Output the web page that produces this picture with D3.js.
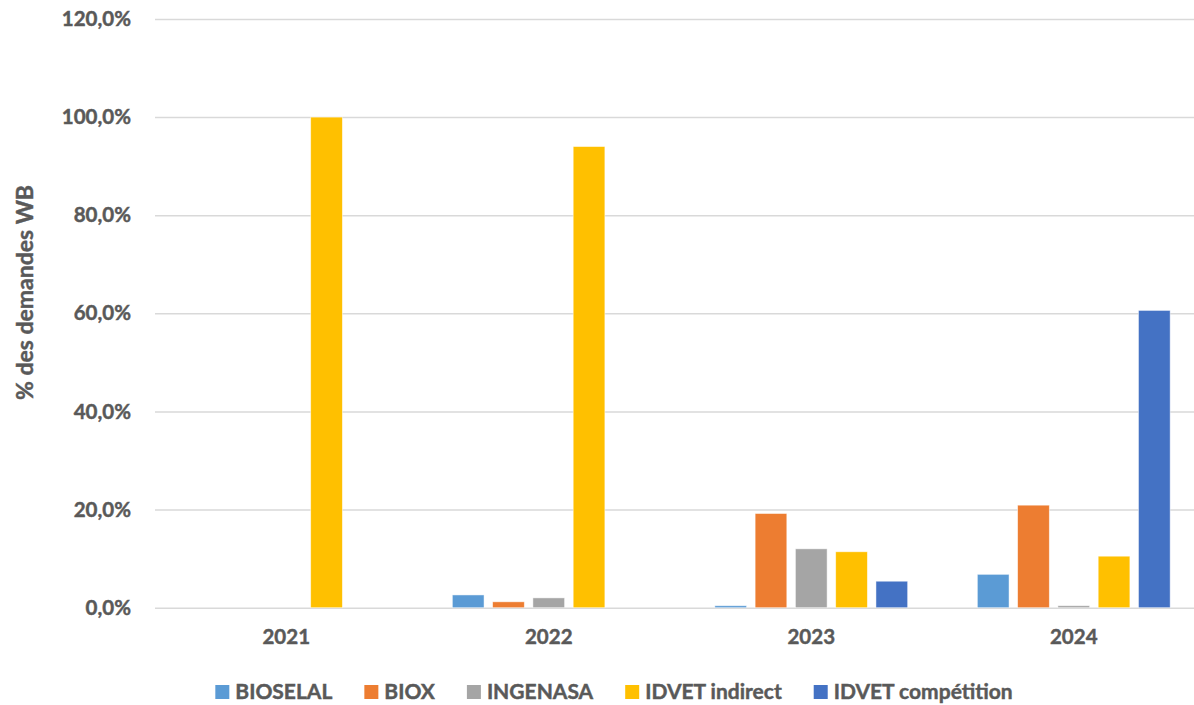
<!DOCTYPE html>
<html>
<head>
<meta charset="utf-8">
<script src="https://cdn.jsdelivr.net/npm/d3@7"></script>
<style>
  body { margin: 0; background: #fff; }
  text { font-family: Lato, "Open Sans", sans-serif; font-weight: bold; fill: #595959; stroke: #595959; stroke-width: 0.45px; }
</style>
</head>
<body>
<svg id="chart" width="1194" height="705"></svg>
<script>
/* data (percent) */
const years = ["2021", "2022", "2023", "2024"];
const seriesNames = ["BIOSELAL", "BIOX", "INGENASA", "IDVET indirect", "IDVET compétition"];
const bioselal = [0, 2.6, 0.4, 6.8];
const biox = [0, 1.2, 19.2, 20.9];
const ingenasa = [0, 2.0, 12.0, 0.4];
const idvetIndirect = [100, 94.0, 11.4, 10.5];
const idvetCompetition = [0, 0, 5.4, 60.6];
const yTicks = [0, 20, 40, 60, 80, 100, 120];

const seriesValues = [bioselal, biox, ingenasa, idvetIndirect, idvetCompetition];
const colors = ["#5B9BD5", "#ED7D31", "#A5A5A5", "#FFC000", "#4472C4"];

const svg = d3.select("#chart");

// plot area (right edge runs past the picture, like the original crop)
const plotLeft = 155, plotRight = 1205, plotTop = 19, plotBottom = 607.7;

const x0 = d3.scaleBand()
  .domain(years)
  .range([plotLeft, plotRight]);

const x1 = d3.scaleBand()
  .domain(seriesNames)
  .range([0, x0.bandwidth()])
  .paddingInner(0.213)
  .paddingOuter(0.865);

const y = d3.scaleLinear()
  .domain([0, 120])
  .range([plotBottom, plotTop]);

const locale = d3.formatLocale({ decimal: ",", thousands: " ", grouping: [3], currency: ["", "€"] });
const fmt = locale.format(".1f");

// gridlines + y labels
const yAxis = svg.append("g")
  .attr("transform", "translate(" + plotLeft + ",0)")
  .call(d3.axisLeft(y)
    .tickValues(yTicks)
    .tickSize(-(plotRight - plotLeft))
    .tickPadding(24)
    .tickFormat(d => fmt(d) + "%"));

yAxis.select(".domain").remove();
yAxis.selectAll(".tick line")
  .attr("stroke", "#d9d9d9")
  .attr("stroke-width", 1.5);
yAxis.selectAll(".tick text")
  .attr("font-size", "20.5px")
  .attr("fill", "#595959");

// bars
const groups = svg.append("g")
  .selectAll("g")
  .data(years)
  .enter().append("g")
  .attr("transform", d => "translate(" + x0(d) + ",0)");

groups.selectAll("rect")
  .data((d, i) => seriesNames.map((s, j) => ({ name: s, value: seriesValues[j][i], color: colors[j] })))
  .enter().append("rect")
  .attr("x", d => x1(d.name))
  .attr("width", x1.bandwidth())
  .attr("y", d => y(d.value))
  .attr("height", d => y(0) - y(d.value))
  .attr("fill", d => d.color)
  .attr("stroke", "#fff")
  .attr("stroke-opacity", 0.6)
  .attr("stroke-width", 0.8);

// category labels
const xAxis = svg.append("g")
  .attr("transform", "translate(0," + plotBottom + ")")
  .call(d3.axisBottom(x0).tickSize(0).tickPadding(22));

xAxis.select(".domain").remove();
xAxis.selectAll(".tick text")
  .attr("font-size", "20.5px")
  .attr("fill", "#595959");

// y axis title
svg.append("text")
  .attr("transform", "translate(33,292.5) rotate(-90)")
  .attr("text-anchor", "middle")
  .attr("font-size", "23px")
  .text("% des demandes WB");

// legend
const legend = svg.append("g");
let lx = 0;
seriesNames.forEach((name, i) => {
  const item = legend.append("g").attr("transform", "translate(" + lx + ",0)");
  item.append("rect")
    .attr("x", 0)
    .attr("y", 685)
    .attr("width", 14)
    .attr("height", 14)
    .attr("fill", colors[i]);
  const t = item.append("text")
    .attr("x", 20)
    .attr("y", 698.5)
    .attr("font-size", "21px")
    .text(name);
  lx += 20 + t.node().getComputedTextLength() + 32;
});
const legendWidth = lx - 32;
legend.attr("transform", "translate(" + (614 - legendWidth / 2) + ",0)");
</script>
</body>
</html>
